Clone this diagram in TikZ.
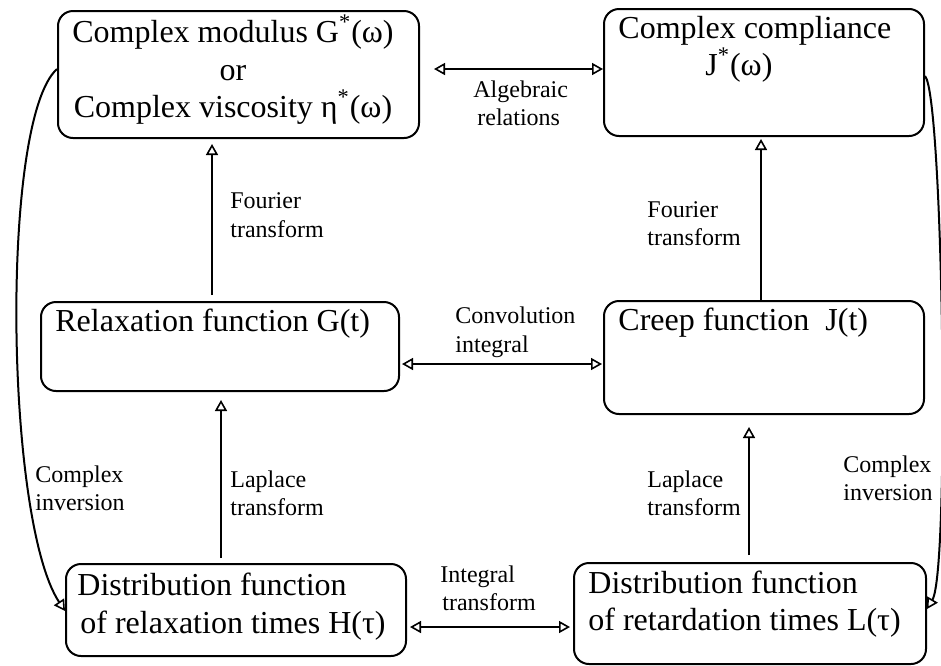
\documentclass[tikz,border=0pt]{standalone}
\usepackage{fontspec}
\setmainfont{Liberation Serif}
\usetikzlibrary{arrows.meta,calc}
\begin{document}
\begin{tikzpicture}[x=0.5pt,y=-0.5pt,
  box/.style={draw, line width=1pt, rounded corners=7.5pt, inner sep=0pt, anchor=north west},
  boxtxt/.style={font=\fontsize{16}{19}\selectfont, inner sep=0pt, anchor=base west},
  boxctr/.style={font=\fontsize{16}{19}\selectfont, inner sep=0pt, anchor=base},
  lbl/.style={font=\fontsize{12}{14}\selectfont, inner sep=0pt, anchor=base west},
  oarr/.style={line width=1pt, -{Triangle[open,length=5.5pt,width=6pt,line width=0.8pt]}},
  darr/.style={line width=1pt, {Triangle[open,length=5.5pt,width=6pt,line width=0.8pt]}-{Triangle[open,length=5.5pt,width=6pt,line width=0.8pt]}}]
\fill[white] (0,0) rectangle (941,665);
\useasboundingbox (0,0) rectangle (941,665);

% boxes
\node[box, minimum width=180.5pt, minimum height=63.5pt] (A) at (57,10) {};
\node[box, minimum width=160pt, minimum height=63.5pt] (B) at (603,8) {};
\node[box, minimum width=179pt, minimum height=44.5pt] (C) at (40,301) {};
\node[box, minimum width=160pt, minimum height=56.5pt] (D) at (603,300) {};
\node[box, minimum width=170pt, minimum height=46pt] (E) at (65,563) {};
\node[box, minimum width=176pt, minimum height=50.5pt] (F) at (573,562) {};

% box texts
\node[boxctr] (A1) at (233,42) {Complex modulus G\textsuperscript{*}(ω)};
\node[boxctr] (A2) at (233,80) {or};
\node[boxctr] (A3) at (233,117) {Complex viscosity η\textsuperscript{*}(ω)};
\node[boxtxt] (B1) at (618,38) {Complex compliance};
\node[boxtxt] (B2) at (705,75) {J\textsuperscript{*}(ω)};
\node[boxtxt] (C1) at (55,331) {Relaxation function G(t)};
\node[boxtxt] (D1) at (618,330) {Creep function\ \ J(t)};
\node[boxtxt] (E1) at (77,595) {Distribution function};
\node[boxtxt] (E2) at (80,633) {of relaxation times H(τ)};
\node[boxtxt] (F1) at (588,593) {Distribution function};
\node[boxtxt] (F2) at (588,630) {of retardation times L(τ)};

% labels
\node[lbl] (alg1) at (473,97) {Algebraic};
\node[lbl] (alg2) at (477,125) {relations};
\node[lbl] (fl1) at (230,208) {Fourier};
\node[lbl] (fl2) at (230,237) {transform};
\node[lbl] (fr1) at (647,217) {Fourier};
\node[lbl] (fr2) at (647,245) {transform};
\node[lbl] (cv1) at (455,323) {Convolution};
\node[lbl] (cv2) at (455,352) {integral};
\node[lbl] (ll1) at (230,487) {Laplace};
\node[lbl] (ll2) at (230,515) {transform};
\node[lbl] (lr1) at (647,487) {Laplace};
\node[lbl] (lr2) at (647,515) {transform};
\node[lbl] (ci1) at (35,482) {Complex};
\node[lbl] (ci2) at (35,510) {inversion};
\node[lbl] (cr1) at (843,472) {Complex};
\node[lbl] (cr2) at (843,500) {inversion};
\node[lbl] (it1) at (440,582) {Integral};
\node[lbl] (it2) at (442,610) {transform};

% connectors
\draw[darr, shorten <=7pt] ([yshift=2.75pt]A.east) -- ([yshift=2.75pt]A.east -| B.west);
\draw[oarr, shorten <=3pt, shorten >=2.5pt] ([xshift=-4pt]C.north) -- ([xshift=-4pt]C.north |- A.south);
\draw[oarr, shorten >=1pt] ([xshift=-1.5pt]D.north) -- ([xshift=-1.5pt]D.north |- B.south);
\draw[darr, shorten <=1pt, shorten >=0.5pt] ([yshift=-8.75pt]C.east) -- ([yshift=-8.75pt]C.east -| D.west);
\draw[oarr, shorten <=2.5pt, shorten >=4pt] ([xshift=-7.5pt]E.north) -- ([xshift=-7.5pt]E.north |- C.south);
\draw[oarr, shorten <=3.5pt, shorten >=6pt] ([xshift=-0.5pt]F.north) -- ([xshift=-0.5pt]F.north |- D.south);
\draw[darr, shorten <=1.5pt, shorten >=1.5pt] ([yshift=-8.5pt]E.east) -- ([yshift=-8.5pt]E.east -| F.west);
\draw[oarr] ([yshift=2.75pt]A.west) .. controls (0,120) and (5,520) .. ([yshift=-0.5pt]E.west);
\draw[oarr] ([yshift=-1.75pt]B.east) .. controls (943,95) and (950,570) .. ([yshift=2.25pt]F.east);
\end{tikzpicture}
\end{document}
